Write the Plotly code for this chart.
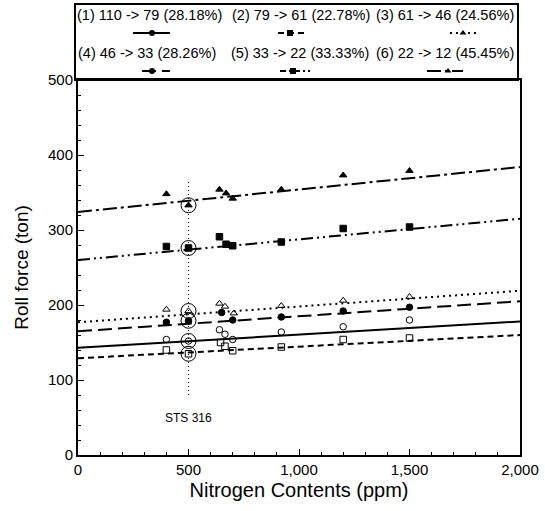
import plotly.graph_objects as go

# ---- data ----
series_labels = ["(1) 110 -> 79 (28.18%)", "(2) 79 -> 61 (22.78%)", "(3) 61 -> 46 (24.56%)",
                 "(4) 46 -> 33 (28.26%)", "(5) 33 -> 22 (33.33%)", "(6) 22 -> 12 (45.45%)"]

s1_x = [400, 500, 640, 665, 700, 920, 1200, 1500]
s1_y = [154, 152, 167, 161, 154, 164, 171, 180]
s2_x = [400, 500, 645, 665, 700, 920, 1200, 1500]
s2_y = [140, 135, 150, 145, 139, 144, 154, 156]
s3_x = [400, 500, 640, 665, 705, 920, 1200, 1500]
s3_y = [194, 192, 202, 198, 189, 199, 206, 211]
s4_x = [400, 500, 650, 700, 920, 1200, 1500]
s4_y = [177, 179, 190, 180, 184, 192, 197]
s5_x = [400, 500, 640, 670, 700, 920, 1200, 1500]
s5_y = [278, 276, 291, 281, 279, 284, 302, 304]
s6_x = [400, 500, 640, 670, 700, 920, 1200, 1500]
s6_y = [348, 333, 354, 349, 342, 354, 373, 379]

fit_x = [0, 2000]
fit_start = [143, 129, 177, 165, 260, 324]
fit_end = [178, 160, 219, 205, 315, 384]

sts_x = 500
sts_y_range = [80, 368]
sts_label = "STS 316"
sts_label_y = 50

# ---- styles ----
FONT = "Liberation Sans, Arial, sans-serif"
symbols = ["circle-open", "square-open", "triangle-up-open", "circle", "square", "triangle-up"]
dashes = ["solid", "6px,4px", "2px,4px", "14px,6px", "12px,4px,2px,4px,2px,4px", "14px,4px,3px,4px"]
line_widths = [2, 2, 2, 2, 2, 2]

xs = [s1_x, s2_x, s3_x, s4_x, s5_x, s6_x]
ys = [s1_y, s2_y, s3_y, s4_y, s5_y, s6_y]

fig = go.Figure()

# vertical dotted line at STS 316
fig.add_trace(go.Scatter(x=[sts_x, sts_x], y=sts_y_range, mode="lines",
                         line=dict(color="black", width=1, dash="1px,3px"),
                         showlegend=False, hoverinfo="skip"))

for i in range(6):
    fig.add_trace(go.Scatter(x=fit_x, y=[fit_start[i], fit_end[i]], mode="lines",
                             line=dict(color="black", width=line_widths[i], dash=dashes[i]),
                             showlegend=False, hoverinfo="skip"))
    fig.add_trace(go.Scatter(x=xs[i], y=ys[i], mode="markers", name=series_labels[i],
                             marker=dict(symbol=symbols[i], size=6.5, color="black",
                                         line=dict(color="black", width=1)),
                             showlegend=False))
    # circle marking the STS 316 point
    cx = [x for x in xs[i] if x == sts_x]
    cy = [y for x, y in zip(xs[i], ys[i]) if x == sts_x]
    fig.add_trace(go.Scatter(x=cx, y=cy, mode="markers",
                             marker=dict(symbol="circle-open", size=15, color="black",
                                         line=dict(color="black", width=1)),
                             showlegend=False, hoverinfo="skip"))

# ---- custom legend (text above line samples) in a pixel-coordinate helper axis ----
leg_text_pos = [(149, 15), (301, 15), (445, 15), (147, 53), (300, 53), (445, 53)]
leg_line_pos = [(133, 170, 152, 33), (278, 308, 290, 33), (450, 478, 463, 33),
                (142, 170, 152, 71), (280, 310, 293, 71), (427, 463, 448, 71)]
for i in range(6):
    x0, x1, xm, yy = leg_line_pos[i]
    fig.add_trace(go.Scatter(x=[x0, x1], y=[yy, yy], mode="lines", xaxis="x2", yaxis="y2",
                             line=dict(color="black", width=2, dash=dashes[i] if i != 4 else "6px,3px,2px,3px"),
                             showlegend=False, hoverinfo="skip"))
    fig.add_trace(go.Scatter(x=[xm], y=[yy], mode="markers", xaxis="x2", yaxis="y2",
                             marker=dict(symbol=symbols[i].replace("-open", ""), size=6, color="black"),
                             showlegend=False, hoverinfo="skip"))
    tx, ty = leg_text_pos[i]
    fig.add_annotation(x=tx, y=ty, xref="x2", yref="y2", text=series_labels[i],
                       showarrow=False, font=dict(size=14.5, color="black", family=FONT))

fig.add_annotation(x=sts_x, y=sts_label_y, xref="x", yref="y", text=sts_label,
                   showarrow=False, font=dict(size=12, color="black", family=FONT))

W, H = 545, 511
ml, mr, mt, mb = 78, 25, 4, 56
ph = H - mt - mb
main_top = (455 - 80) / ph

# legend box
fig.add_shape(type="rect", xref="paper", yref="paper",
              x0=(75 - ml) / (W - ml - mr), x1=(518 - ml) / (W - ml - mr),
              y0=main_top, y1=1.0, line=dict(color="black", width=2))

fig.update_layout(
    width=W, height=H,
    margin=dict(l=ml, r=mr, t=mt, b=mb, autoexpand=False),
    paper_bgcolor="white", plot_bgcolor="white",
    font=dict(family=FONT, color="black"),
    xaxis=dict(range=[0, 2000], domain=[0, 1], anchor="y", automargin=False,
               tickvals=[0, 500, 1000, 1500, 2000], tickformat=",",
               ticks="inside", ticklen=6, tickwidth=1, tickcolor="black",
               minor=dict(dtick=100, ticks="inside", ticklen=3, tickcolor="black"),
               showline=True, linecolor="black", linewidth=2, mirror=True,
               showgrid=False, zeroline=False,
               tickfont=dict(size=15, family=FONT),
               title=dict(text="Nitrogen Contents (ppm)", font=dict(size=20, family=FONT), standoff=6)),
    yaxis=dict(range=[0, 500], domain=[0, main_top], anchor="x", automargin=False,
               tickvals=[0, 100, 200, 300, 400, 500],
               ticks="inside", ticklen=6, tickwidth=1, tickcolor="black",
               minor=dict(dtick=20, ticks="inside", ticklen=3, tickcolor="black"),
               showline=True, linecolor="black", linewidth=2, mirror=True,
               showgrid=False, zeroline=False,
               tickfont=dict(size=15, family=FONT),
               title=dict(text="Roll force (ton)", font=dict(size=19, family=FONT), standoff=14)),
    xaxis2=dict(range=[78, 520], domain=[0, 1], anchor="y2", visible=False),
    yaxis2=dict(range=[80, 4], domain=[main_top, 1], anchor="x2", visible=False),
    showlegend=False,
)

fig.write_html("out.html",
               config={"displayModeBar": False},
               post_script="document.body.style.margin='0';document.body.style.padding='0';")
